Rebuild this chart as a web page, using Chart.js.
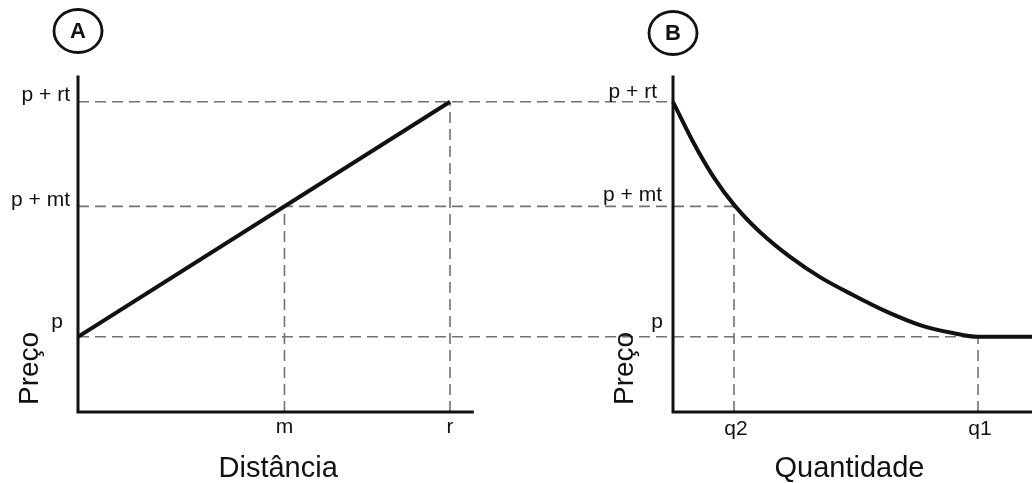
<!DOCTYPE html>
<html>
<head>
<meta charset="utf-8">
<script src="https://cdn.jsdelivr.net/npm/chart.js@4.4.1/dist/chart.umd.min.js"></script>
<style>
  html, body { margin: 0; padding: 0; background: #fff; }
  canvas { display: block; }
</style>
</head>
<body>
<canvas id="chart" width="1032" height="483"></canvas>
<script>
// price levels on the shared vertical axis: p, p + mt, p + rt
const priceLevels = [3.2, 8.75, 13.2];
const priceLabels = ["p", "p + mt", "p + rt"];

// panel A (distance)
const distTicks = [5.55, 10];
const distLabels = ["m", "r"];
const lineDist = [0, 10];
const linePrice = [3.2, 13.2];

// panel B (quantity), curve
const qtyTicks = [2, 10];
const qtyLabels = ["q2", "q1"];
const curveQty = [0, 0.66, 1.31, 2.03, 2.85, 3.84, 4.82, 5.9, 7.02, 8.1, 9.18, 10, 11.77];
const curvePrice = [13.2, 11.49, 10.04, 8.77, 7.66, 6.6, 5.74, 4.98, 4.26, 3.7, 3.36, 3.2, 3.2];

const FONT = "'Liberation Sans', Arial, sans-serif";
const INK = "#111";
const DASH = "#727272";

const panelsPlugin = {
  id: "panels",
  beforeDatasetsDraw(chart) {
    const { ctx } = chart;
    const xA = chart.scales.xA, xB = chart.scales.xB, y = chart.scales.y;
    const a0 = xA.getPixelForValue(0);
    const b0 = xB.getPixelForValue(0);
    const yBottom = y.getPixelForValue(0);

    ctx.save();
    ctx.strokeStyle = DASH;
    ctx.lineWidth = 1.6;
    ctx.setLineDash([11, 6]);
    // horizontal guides run from axis A across to panel B
    const ends = [xB.getPixelForValue(qtyTicks[1]), xB.getPixelForValue(qtyTicks[0]), b0];
    priceLevels.forEach((v, i) => {
      const py = y.getPixelForValue(v);
      ctx.beginPath();
      ctx.moveTo(a0, py);
      ctx.lineTo(ends[i], py);
      ctx.stroke();
    });
    // vertical guides
    const verts = [
      [xA.getPixelForValue(distTicks[0]), priceLevels[1]],
      [xA.getPixelForValue(distTicks[1]), priceLevels[2]],
      [xB.getPixelForValue(qtyTicks[0]), priceLevels[1]],
      [xB.getPixelForValue(qtyTicks[1]), priceLevels[0]],
    ];
    verts.forEach(([px, top]) => {
      ctx.beginPath();
      ctx.moveTo(px, yBottom);
      ctx.lineTo(px, y.getPixelForValue(top));
      ctx.stroke();
    });
    ctx.restore();
  },
  afterDatasetsDraw(chart) {
    const { ctx, chartArea } = chart;
    const xA = chart.scales.xA, xB = chart.scales.xB, y = chart.scales.y;
    const a0 = xA.getPixelForValue(0);
    const aEnd = xA.getPixelForValue(10.6);
    const b0 = xB.getPixelForValue(0);
    const bEnd = chartArea.right;
    const yBottom = y.getPixelForValue(0);
    const yTop = chartArea.top;

    ctx.save();
    // axes
    ctx.strokeStyle = INK;
    ctx.lineWidth = 3;
    ctx.lineCap = "square";
    [[a0, aEnd], [b0, bEnd]].forEach(([l, r]) => {
      ctx.beginPath();
      ctx.moveTo(l, yTop);
      ctx.lineTo(l, yBottom);
      ctx.lineTo(r, yBottom);
      ctx.stroke();
    });

    ctx.fillStyle = INK;
    // price labels
    ctx.font = "21px " + FONT;
    ctx.textAlign = "right";
    ctx.textBaseline = "alphabetic";
    const offA = [[-15, -9], [-8, 0], [-8, -1]];
    const offB = [[-10, -9], [-11, -5], [-16, -4]];
    priceLabels.forEach((t, i) => {
      const py = y.getPixelForValue(priceLevels[i]);
      ctx.fillText(t, a0 + offA[i][0], py + offA[i][1]);
      ctx.fillText(t, b0 + offB[i][0], py + offB[i][1]);
    });

    // tick labels
    ctx.textAlign = "center";
    distLabels.forEach((t, i) => ctx.fillText(t, xA.getPixelForValue(distTicks[i]), yBottom + 21));
    qtyLabels.forEach((t, i) => ctx.fillText(t, xB.getPixelForValue(qtyTicks[i]) + 2, yBottom + 23));

    // axis titles
    ctx.font = "29px " + FONT;
    ctx.fillText("Distância", (a0 + aEnd) / 2 + 3, yBottom + 65);
    ctx.fillText("Quantidade", (b0 + bEnd) / 2 - 3, yBottom + 65);

    ctx.font = "28px " + FONT;
    ctx.textAlign = "left";
    [a0, b0].forEach((px) => {
      ctx.save();
      ctx.translate(px - 40, yBottom - 7);
      ctx.rotate(-Math.PI / 2);
      ctx.fillText("Preço", 0, 0);
      ctx.restore();
    });

    // panel badges
    ctx.lineWidth = 2.8;
    ctx.font = "bold 22px " + FONT;
    ctx.textAlign = "center";
    ctx.textBaseline = "middle";
    [[a0, 31, "A"], [b0, 33, "B"]].forEach(([cx, cy, t]) => {
      ctx.beginPath();
      ctx.ellipse(cx, cy, 24, 21.5, 0, 0, Math.PI * 2);
      ctx.stroke();
      ctx.fillText(t, cx, cy + 1);
    });
    ctx.restore();
  },
};

new Chart(document.getElementById("chart"), {
  type: "line",
  data: {
    datasets: [
      {
        label: "A",
        xAxisID: "xA",
        data: lineDist.map((x, i) => ({ x, y: linePrice[i] })),
        borderColor: INK,
        borderWidth: 4,
        pointRadius: 0,
        fill: false,
      },
      {
        label: "B",
        xAxisID: "xB",
        data: curveQty.map((x, i) => ({ x, y: curvePrice[i] })),
        borderColor: INK,
        borderWidth: 4,
        pointRadius: 0,
        fill: false,
        cubicInterpolationMode: "monotone",
      },
    ],
  },
  options: {
    responsive: false,
    animation: false,
    devicePixelRatio: 1,
    layout: { padding: { left: 78, right: 0, top: 77, bottom: 71 } },
    plugins: { legend: { display: false }, tooltip: { enabled: false } },
    scales: {
      xA: { type: "linear", display: false, min: 0, max: 25.645 },
      xB: { type: "linear", display: false, min: -19.508, max: 11.77 },
      y: { type: "linear", display: false, min: 0, max: 14.255 },
    },
  },
  plugins: [panelsPlugin],
});
</script>
</body>
</html>
